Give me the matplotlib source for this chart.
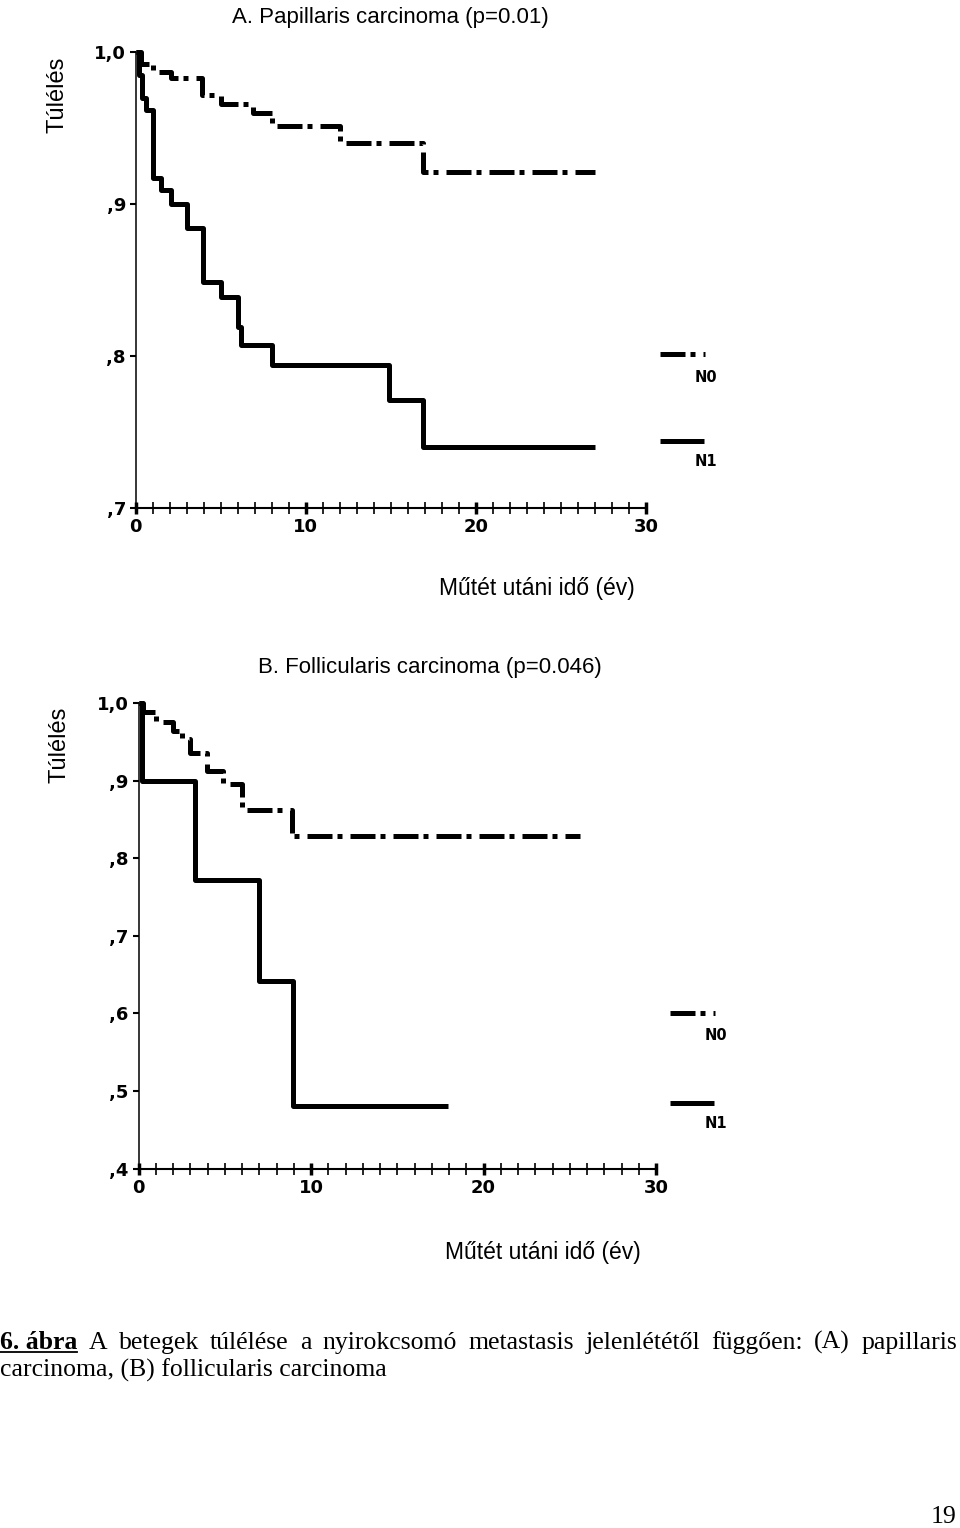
import matplotlib
matplotlib.use('Agg')
import matplotlib.pyplot as plt
from matplotlib.lines import Line2D

# survival curves (years, cumulative survival)
pap_title = 'A. Papillaris carcinoma (p=0.01)'
pap_n0_t = [0, 0.3, 1.0, 2.1, 3.9, 5.0, 6.9, 8.0, 12.0, 16.9, 27.0]
pap_n0_s = [1.0, 0.992, 0.987, 0.983, 0.972, 0.966, 0.960, 0.951, 0.940, 0.921, 0.921]
pap_n1_t = [0, 0.2, 0.4, 0.6, 1.0, 1.5, 2.1, 3.05, 3.95, 5.0, 6.0, 6.2, 8.0, 14.9, 16.9, 27.0]
pap_n1_s = [1.0, 0.985, 0.970, 0.962, 0.917, 0.909, 0.900, 0.884, 0.849, 0.839, 0.819,
            0.807, 0.794, 0.771, 0.740, 0.740]
pap_yticks = [0.7, 0.8, 0.9, 1.0]
pap_ylabels = [',7', ',8', ',9', '1,0']

foll_title = 'B. Follicularis carcinoma (p=0.046)'
foll_n0_t = [0, 0.25, 1.0, 2.0, 2.5, 3.0, 3.95, 4.9, 6.0, 8.9, 25.6]
foll_n0_s = [1.0, 0.988, 0.976, 0.964, 0.953, 0.936, 0.912, 0.895, 0.862, 0.828, 0.828]
foll_n1_t = [0, 0.23, 3.26, 7.0, 8.94, 17.96]
foll_n1_s = [1.0, 0.900, 0.772, 0.642, 0.481, 0.481]
foll_yticks = [0.4, 0.5, 0.6, 0.7, 0.8, 0.9, 1.0]
foll_ylabels = [',4', ',5', ',6', ',7', ',8', ',9', '1,0']

xticks = [0, 10, 20, 30]
group_names = ['N0', 'N1']
ylabel = 'Túlélés'
xlabel = 'Műtét utáni idő (év)'

caption_words = ['A', 'betegek', 'túlélése', 'a', 'nyirokcsomó', 'metastasis',
                 'jelenlététől', 'függően:', '(A)', 'papillaris']
caption_head = '6. ábra'
caption_line2 = 'carcinoma, (B) follicularis carcinoma'
page_number = '19'

W, H = 960, 1528
LW = 3.6
DASH = (0, (5.0, 1.0, 1.0, 1.6))
tick_font = dict(family='DejaVu Sans', weight='bold', size=13)
sans = dict(family='Liberation Sans', size=16)

fig = plt.figure(figsize=(W / 100, H / 100), dpi=100)

# page axes in pixel coordinates for the loose text
page = fig.add_axes([0, 0, 1, 1], zorder=-1)
page.set_xlim(0, W)
page.set_ylim(H, 0)
page.axis('off')


def km_panel(rect, n0_t, n0_s, n1_t, n1_s, yticks, ylabels):
    # rect in pixels: left, top, right, bottom
    l, t, r, b = rect
    ax = fig.add_axes([l / W, 1 - b / H, (r - l) / W, (b - t) / H])
    ax.step(n0_t, n0_s, where='post', color='black', lw=LW, linestyle=DASH,
            dash_capstyle='butt', clip_on=False)
    ax.step(n1_t, n1_s, where='post', color='black', lw=LW,
            solid_capstyle='butt', clip_on=False)
    ax.set_xlim(0, 30)
    ax.set_ylim(yticks[0], yticks[-1])
    ax.patch.set_visible(False)
    for side in ['top', 'right']:
        ax.spines[side].set_visible(False)
    ax.spines['left'].set_linewidth(1.1)
    ax.spines['bottom'].set_linewidth(1.5)
    ax.set_yticks(yticks)
    ax.set_yticklabels(ylabels, fontdict=tick_font)
    ax.set_xticks(xticks)
    ax.set_xticklabels([str(x) for x in xticks], fontdict=tick_font)
    ax.set_xticks(range(0, 31), minor=True)
    ax.tick_params(axis='y', direction='out', length=4, width=1.5, pad=3)
    ax.tick_params(axis='x', which='both', direction='inout', length=9, width=1.2, pad=3)
    ax.tick_params(axis='x', which='major', width=2.5)
    return ax


def legend(x, y0, y1):
    page.add_line(Line2D([x, x + 45], [y0, y0], color='black', lw=LW, linestyle=DASH,
                         dash_capstyle='butt'))
    page.text(x + 35, y0 + 23, group_names[0], fontdict=dict(tick_font, size=10.5),
              ha='left', va='center')
    page.add_line(Line2D([x, x + 44], [y1, y1], color='black', lw=LW, solid_capstyle='butt'))
    page.text(x + 35, y1 + 21, group_names[1], fontdict=dict(tick_font, size=10.5),
              ha='left', va='center')


# A. papillaris
km_panel((135.6, 52, 646, 508), pap_n0_t, pap_n0_s, pap_n1_t, pap_n1_s,
         pap_yticks, pap_ylabels)
page.text(390, 18, pap_title, fontdict=sans, ha='center', va='center')
page.text(57, 95, ylabel, fontdict=dict(sans, size=17), rotation=90,
          ha='center', va='center')
page.text(537, 589, xlabel, fontdict=dict(sans, size=16.5), ha='center', va='center')
legend(660, 354, 441)

# B. follicularis
km_panel((138.5, 703, 656, 1168.6), foll_n0_t, foll_n0_s, foll_n1_t, foll_n1_s,
         foll_yticks, foll_ylabels)
page.text(430, 667, foll_title, fontdict=sans, ha='center', va='center')
page.text(59, 745, ylabel, fontdict=dict(sans, size=17), rotation=90,
          ha='center', va='center')
page.text(543, 1252, xlabel, fontdict=dict(sans, size=16.5), ha='center', va='center')
legend(670, 1013, 1103)

# caption, first line justified to the full width
serif = dict(family='Liberation Serif', size=18.5)
renderer = fig.canvas.get_renderer()
base = 1349
head = page.text(0, base, caption_head, fontdict=dict(serif, weight='bold'),
                 ha='left', va='baseline')
texts = [page.text(0, base, w, fontdict=serif, ha='left', va='baseline')
         for w in caption_words]
widths = [head.get_window_extent(renderer).width] + \
         [tx.get_window_extent(renderer).width for tx in texts]
gap = (957 - sum(widths)) / (len(widths) - 1)
x = widths[0] + gap
for tx, w in zip(texts, widths[1:]):
    tx.set_x(x)
    x += w + gap
page.add_line(Line2D([0, widths[0]], [base + 3, base + 3], color='black', lw=1.3))
page.text(0, base + 28, caption_line2, fontdict=serif, ha='left', va='baseline')

page.text(956, 1517, page_number, family='Liberation Serif', size=18.5,
          ha='right', va='center')

fig.savefig('out.png', dpi=100)
